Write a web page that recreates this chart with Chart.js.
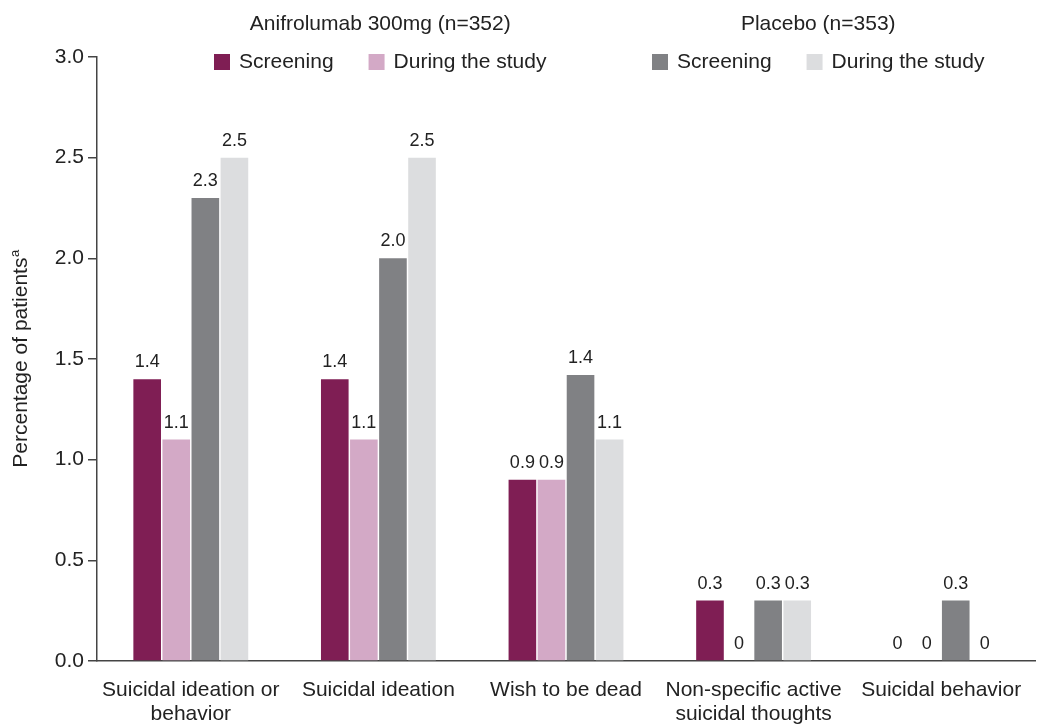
<!DOCTYPE html>
<html>
<head>
<meta charset="utf-8">
<script src="https://cdn.jsdelivr.net/npm/chart.js@4.4.1/dist/chart.umd.min.js"></script>
<style>
  body { margin: 0; background: #fff; }
  #wrap { width: 1040px; height: 725px; }
</style>
</head>
<body>
<div id="wrap"><canvas id="cssrsChart"></canvas></div>
<script>
// Data
const categories = [
  ["Suicidal ideation or", "behavior"],
  "Suicidal ideation",
  "Wish to be dead",
  ["Non-specific active", "suicidal thoughts"],
  "Suicidal behavior",
];
const groupTitles = ["Anifrolumab 300mg (n=352)", "Placebo (n=353)"];
const seriesNames = ["Screening", "During the study", "Screening", "During the study"];
const anifScreening = [1.4, 1.4, 0.9, 0.3, 0];
const anifDuring = [1.1, 1.1, 0.9, 0, 0];
const placeboScreening = [2.3, 2.0, 1.42, 0.3, 0.3];
const placeboDuring = [2.5, 2.5, 1.1, 0.3, 0];
const yTickValues = [0, 0.5, 1.0, 1.5, 2.0, 2.5, 3.0];
const yAxisTitle = "Percentage of patients";

const FONT = '"Liberation Sans", Arial, Helvetica, sans-serif';
const TEXT = "#222";
const colors = ["#7f1e54", "#d3a9c6", "#808184", "#dcdddf"];

// group headers + legend, drawn above the plot
const headerLegend = {
  id: "headerLegend",
  afterDraw(chart) {
    const ctx = chart.ctx;
    const ds = chart.data.datasets;
    const starts = [214, 652];
    ctx.save();
    ctx.font = `21px ${FONT}`;
    ctx.textBaseline = "middle";
    groupTitles.forEach((title, gi) => {
      let x = starts[gi];
      const x0 = x;
      [0, 1].forEach((k) => {
        const d = ds[gi * 2 + k];
        ctx.fillStyle = d.backgroundColor;
        ctx.fillRect(x, 54, 16, 16);
        x += 25;
        ctx.fillStyle = TEXT;
        ctx.textAlign = "left";
        ctx.fillText(d.label, x, 62);
        x += ctx.measureText(d.label).width + 35;
      });
      const x1 = x - 35;
      ctx.textAlign = "center";
      ctx.fillText(title, (x0 + x1) / 2, 24);
    });
    ctx.restore();
  },
};

// rotated y title with superscript a
const yTitle = {
  id: "yTitle",
  afterDraw(chart) {
    const ctx = chart.ctx;
    const area = chart.chartArea;
    ctx.save();
    ctx.translate(21, (area.top + area.bottom) / 2);
    ctx.rotate(-Math.PI / 2);
    ctx.fillStyle = TEXT;
    ctx.textBaseline = "middle";
    ctx.font = `21px ${FONT}`;
    const w = ctx.measureText(yAxisTitle).width;
    ctx.font = `13px ${FONT}`;
    const ws = ctx.measureText("a").width;
    const left = -(w + ws) / 2;
    ctx.font = `21px ${FONT}`;
    ctx.textAlign = "left";
    ctx.fillText(yAxisTitle, left, 0);
    ctx.font = `13px ${FONT}`;
    ctx.fillText("a", left + w + 0.5, -6);
    ctx.restore();
  },
};

// value labels over each bar
const barValues = {
  id: "barValues",
  afterDatasetsDraw(chart) {
    const ctx = chart.ctx;
    ctx.save();
    ctx.font = `18px ${FONT}`;
    ctx.fillStyle = TEXT;
    ctx.textAlign = "center";
    ctx.textBaseline = "alphabetic";
    chart.data.datasets.forEach((d, i) => {
      chart.getDatasetMeta(i).data.forEach((bar, j) => {
        const v = d.data[j];
        const txt = v === 0 ? "0" : v.toFixed(1);
        ctx.fillText(txt, bar.x, bar.y - 12);
      });
    });
    ctx.restore();
  },
};

const series = [anifScreening, anifDuring, placeboScreening, placeboDuring];

new Chart(document.getElementById("cssrsChart"), {
  type: "bar",
  data: {
    labels: categories,
    datasets: series.map((vals, i) => ({
      label: seriesNames[i],
      data: vals,
      backgroundColor: colors[i],
      borderWidth: 0,
      categoryPercentage: 0.62,
      barPercentage: 0.95,
    })),
  },
  options: {
    responsive: true,
    maintainAspectRatio: false,
    animation: false,
    layout: { padding: { top: 57, right: 5, bottom: 0, left: 0 } },
    plugins: {
      legend: { display: false },
      tooltip: { enabled: false },
    },
    scales: {
      x: {
        grid: { display: false, drawTicks: false },
        border: { display: true, color: "#444", width: 1.5 },
        ticks: {
          color: TEXT,
          font: { family: FONT, size: 21, lineHeight: 1.15 },
          padding: 17,
          maxRotation: 0,
          autoSkip: false,
        },
        afterFit: (scale) => { scale.height = 64; },
      },
      y: {
        min: 0,
        max: 3,
        afterBuildTicks: (scale) => {
          scale.ticks = yTickValues.map((v) => ({ value: v }));
        },
        grid: {
          drawOnChartArea: false,
          drawTicks: true,
          tickLength: 9,
          color: "#444",
          lineWidth: 1.5,
        },
        border: { display: true, color: "#444", width: 1.5 },
        ticks: {
          color: TEXT,
          font: { family: FONT, size: 21 },
          padding: 4,
          callback: (v) => Number(v).toFixed(1),
        },
        afterFit: (scale) => { scale.width = 97; },
      },
    },
  },
  plugins: [headerLegend, yTitle, barValues],
});
</script>
</body>
</html>
